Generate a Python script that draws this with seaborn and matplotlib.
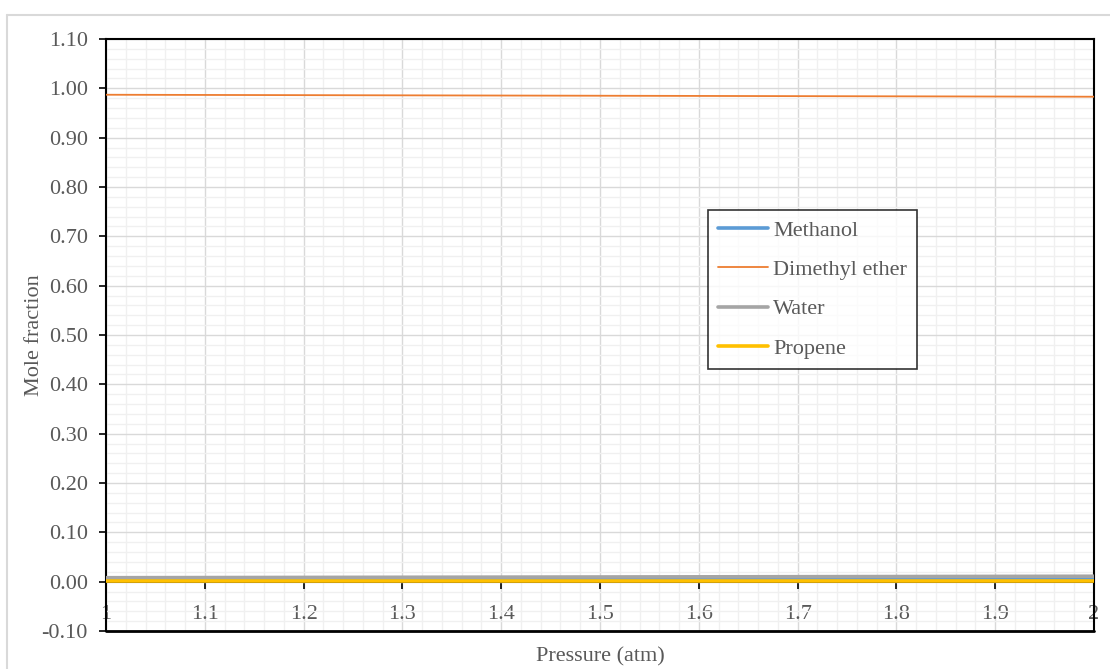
import matplotlib
matplotlib.use("Agg")
import matplotlib.pyplot as plt
import seaborn as sns
import pandas as pd
from matplotlib.ticker import MultipleLocator, FormatStrFormatter
from matplotlib.lines import Line2D

# ---- data ----
pressure = [1.0, 1.1, 1.2, 1.3, 1.4, 1.5, 1.6, 1.7, 1.8, 1.9, 2.0]
methanol = [0.0040, 0.0041, 0.0042, 0.0043, 0.0044, 0.0045, 0.0046, 0.0047, 0.0048, 0.0049, 0.0050]
dimethyl_ether = [0.9870, 0.9866, 0.9862, 0.9858, 0.9854, 0.9850, 0.9846, 0.9842, 0.9838, 0.9834, 0.9830]
water = [0.0080, 0.0083, 0.0086, 0.0089, 0.0092, 0.0095, 0.0098, 0.0101, 0.0104, 0.0107, 0.0110]
propene = [0.0010, 0.0010, 0.0010, 0.0010, 0.0010, 0.0010, 0.0010, 0.0010, 0.0010, 0.0010, 0.0010]
series_names = ["Methanol", "Dimethyl ether", "Water", "Propene"]
series_values = [methanol, dimethyl_ether, water, propene]
colors = ["#5B9BD5", "#ED7D31", "#A5A5A5", "#FFC000"]
widths = [2.6, 1.3, 2.6, 2.6]
x_label = "Pressure (atm)"
y_label = "Mole fraction"

sns.set_style("white")
plt.rcParams["font.family"] = ["Liberation Serif", "DejaVu Serif"]
text_color = "#595959"
fs = 16

fig = plt.figure(figsize=(11.1, 6.69), dpi=100)
ax = fig.add_axes([106 / 1110, 1 - 631 / 669, (1094 - 106) / 1110, (631 - 39) / 669])

rows = []
for name, vals in zip(series_names, series_values):
    for p, v in zip(pressure, vals):
        rows.append({"Pressure": p, "Fraction": v, "Component": name})
df = pd.DataFrame(rows)

for name, c, w in zip(series_names, colors, widths):
    sns.lineplot(data=df[df["Component"] == name], x="Pressure", y="Fraction",
                 color=c, linewidth=w, ax=ax, zorder=3, solid_capstyle="butt")

ax.set_xlim(1, 2)
ax.set_ylim(-0.10, 1.10)
ax.xaxis.set_major_locator(MultipleLocator(0.1))
ax.xaxis.set_minor_locator(MultipleLocator(0.02))
ax.yaxis.set_major_locator(MultipleLocator(0.1))
ax.yaxis.set_minor_locator(MultipleLocator(0.02))
ax.yaxis.set_major_formatter(FormatStrFormatter("%.2f"))
ax.xaxis.set_major_formatter(matplotlib.ticker.FuncFormatter(lambda v, p: f"{v:g}"))

ax.grid(which="major", color="#D9D9D9", linewidth=1.0, zorder=0)
ax.grid(which="minor", color="#F0F0F0", linewidth=1.0, zorder=0)
ax.set_axisbelow(True)

# axis line at y=0 carrying the x ticks
ax.spines["bottom"].set_position(("data", 0))
ax.spines["bottom"].set_color("black")
ax.spines["bottom"].set_linewidth(1.2)
for s in ["left", "right", "top"]:
    ax.spines[s].set_color("black")
    ax.spines[s].set_linewidth(1.5)
ax.axhline(-0.10, color="black", linewidth=2.0, clip_on=False, zorder=5)

ax.tick_params(axis="x", which="major", direction="out", length=5, width=1.2,
               color="black", pad=12, labelsize=fs, labelcolor=text_color)
ax.tick_params(axis="y", which="major", direction="out", length=5, width=1.2,
               color="black", pad=8, labelsize=fs, labelcolor=text_color, left=True)
ax.tick_params(which="minor", length=0)
ax.tick_params(axis="x", bottom=True)

ax.set_xlabel(x_label, fontsize=fs, color=text_color)
ax.xaxis.set_label_coords(0.5, -0.028)
ax.set_ylabel(y_label, fontsize=fs, color=text_color, labelpad=-2)

handles = [Line2D([], [], color=c, linewidth=w) for c, w in zip(colors, widths)]
leg = ax.legend(handles, series_names, loc="upper left",
                bbox_to_anchor=((708 - 106) / 988, (631 - 210) / 592),
                frameon=True, fancybox=False, edgecolor="black", fontsize=fs,
                handlelength=2.25, handletextpad=0.22, labelspacing=0.85,
                borderpad=0.45, borderaxespad=0)
leg.get_frame().set_linewidth(1.2)
for t in leg.get_texts():
    t.set_color(text_color)

# chart area border
fig.add_artist(Line2D([7 / 1110, 7 / 1110], [0, 1 - 15 / 669], color="#D9D9D9", linewidth=1.5,
                      transform=fig.transFigure))
fig.add_artist(Line2D([7 / 1110, 1], [1 - 15 / 669, 1 - 15 / 669], color="#D9D9D9", linewidth=1.5,
                      transform=fig.transFigure))

fig.savefig("out.png", dpi=100)
